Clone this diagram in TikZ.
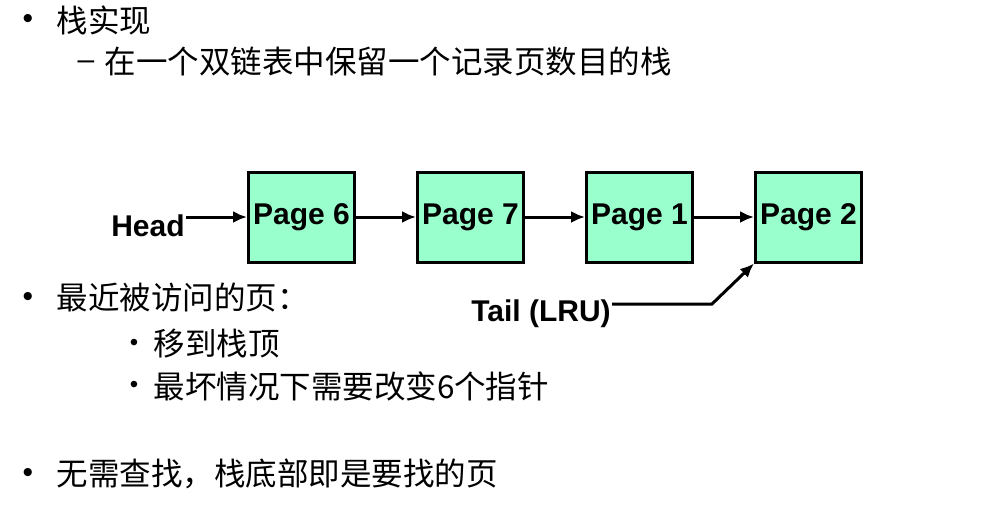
\documentclass[tikz,border=0pt]{standalone}
\usepackage{fontspec}
\setmainfont{Liberation Sans}
\newfontfamily\cjk{Noto Sans CJK SC}
\usetikzlibrary{arrows.meta, positioning}
\definecolor{pagegreen}{RGB}{153,255,204}

\begin{document}
\begin{tikzpicture}[
            x = 1pt, y = -1pt, % pixel grid
            > = {Latex[length=14pt, width=12pt]}, % arrow head style
            node distance = 60pt, % distance between pages
            line width = 3pt % line style
        ]

        \tikzstyle{page}=[
            draw = black,
            line width = 3pt,
            fill = pagegreen,
            minimum width = 106pt,
            minimum height = 90pt,
            inner sep = 0pt,
            font = \fontsize{30}{30}\selectfont\bfseries
        ]
        \tikzstyle{pointer}=[
            inner sep = 0pt,
            font = \fontsize{30}{30}\selectfont\bfseries
        ]
        \tikzstyle{line}=[
            anchor = west,
            inner sep = 0pt,
            font = \cjk\fontsize{31.5}{31.5}\selectfont
        ]
        \tikzstyle{dot}=[
            inner sep = 0pt,
            font = \fontsize{30}{30}\selectfont
        ]
        \tikzstyle{subdot}=[
            inner sep = 0pt,
            font = \fontsize{24}{24}\selectfont
        ]

        \useasboundingbox (0,0) rectangle (981,512);

        % the stack as a list of pages
        \node[page] (p6) at (301.5,217) {Page 6};
        \node[page] (p7) [right=of p6] {Page 7};
        \node[page] (p1) [right=of p7] {Page 1};
        \node[page] (p2) [right=of p1] {Page 2};

        \node[pointer] (head) at (148,226) {Head};
        \node[pointer] (tail) at (541,314) {Tail (LRU)};
        \coordinate (bend) at (712,304);

        \draw[->] (head.east |- p6.west) -- (p6.west);
        \draw[->] (p6) -- (p7);
        \draw[->] (p7) -- (p1);
        \draw[->] (p1) -- (p2);
        \draw[->] (tail.east |- bend) -- (bend) -- (p2.south west);

        % the text
        \node[dot] (b1) at (28,21) {•};
        \node[line] (t1) at (55,20) {栈实现};
        \node[inner sep=0pt, font=\fontsize{30}{30}\selectfont] (d1) at (86,65) {–};
        \node[line] (t2) at (103,62) {在一个双链表中保留一个记录页数目的栈};
        \node[dot] (b2) at (28,299) {•};
        \node[line] (t3) at (55,298) {最近被访问的页：};
        \node[subdot] (b3) at (134,345) {•};
        \node[line] (t4) at (152,344) {移到栈顶};
        \node[subdot] (b4) at (134,387) {•};
        \node[line] (t5) at (152,386) {最坏情况下需要改变6个指针};
        \node[dot] (b5) at (28,475) {•};
        \node[line] (t6) at (55,474) {无需查找，栈底部即是要找的页};

  \end{tikzpicture}
\end{document}
